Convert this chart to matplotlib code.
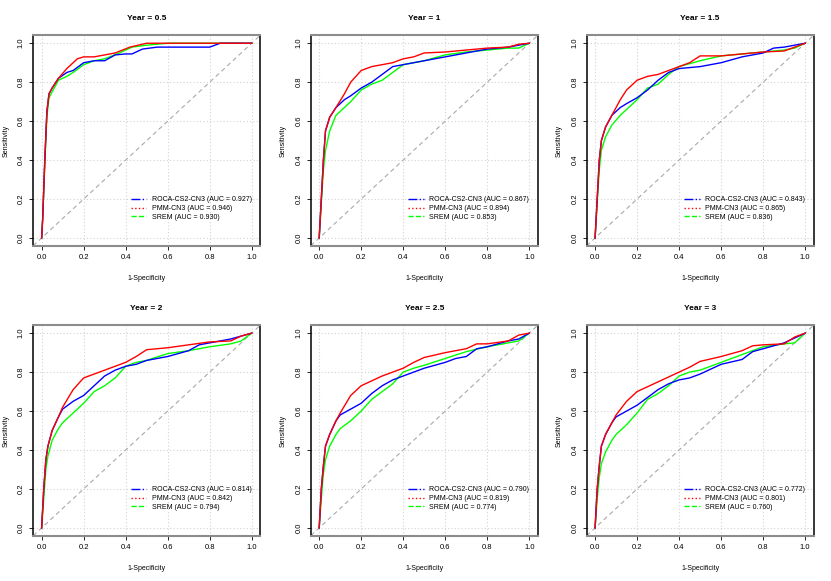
import matplotlib
matplotlib.use("Agg")
import matplotlib.pyplot as plt
from matplotlib.lines import Line2D

plt.rcParams['font.family'] = ['Liberation Sans', 'DejaVu Sans']

years = ["0.5", "1", "1.5", "2", "2.5", "3"]
auc_roca = [0.927, 0.867, 0.843, 0.814, 0.790, 0.772]
auc_pmm = [0.946, 0.894, 0.865, 0.842, 0.819, 0.801]
auc_srem = [0.930, 0.853, 0.836, 0.794, 0.774, 0.760]

# ROC curves: (1-specificity, sensitivity)
roca_x = [
    [0, 0.005, 0.015, 0.025, 0.035, 0.05, 0.08, 0.12, 0.15, 0.2, 0.25, 0.3, 0.35, 0.4, 0.43, 0.48, 0.55, 0.8, 0.85, 1.0],
    [0, 0.01, 0.02, 0.03, 0.05, 0.08, 0.12, 0.15, 0.2, 0.25, 0.3, 0.35, 0.4, 0.5, 0.6, 0.7, 0.8, 0.9, 1.0],
    [0, 0.01, 0.02, 0.03, 0.05, 0.08, 0.12, 0.15, 0.2, 0.25, 0.3, 0.35, 0.4, 0.5, 0.6, 0.7, 0.8, 0.85, 0.9, 1.0],
    [0, 0.01, 0.02, 0.03, 0.05, 0.08, 0.1, 0.15, 0.2, 0.25, 0.3, 0.35, 0.4, 0.45, 0.5, 0.6, 0.7, 0.75, 0.8, 0.9, 1.0],
    [0, 0.01, 0.02, 0.03, 0.05, 0.08, 0.1, 0.15, 0.2, 0.25, 0.3, 0.35, 0.4, 0.45, 0.5, 0.6, 0.65, 0.7, 0.75, 0.8, 0.9, 0.95, 1.0],
    [0, 0.01, 0.02, 0.03, 0.05, 0.08, 0.1, 0.15, 0.2, 0.25, 0.3, 0.35, 0.4, 0.45, 0.5, 0.6, 0.7, 0.75, 0.8, 0.9, 1.0],
]
roca_y = [
    [0, 0.1, 0.4, 0.65, 0.74, 0.77, 0.82, 0.85, 0.86, 0.9, 0.91, 0.91, 0.94, 0.945, 0.945, 0.97, 0.98, 0.98, 1.0, 1.0],
    [0, 0.2, 0.4, 0.55, 0.62, 0.67, 0.71, 0.73, 0.77, 0.8, 0.84, 0.88, 0.89, 0.91, 0.93, 0.95, 0.97, 0.98, 1.0],
    [0, 0.2, 0.4, 0.5, 0.57, 0.63, 0.67, 0.69, 0.72, 0.76, 0.81, 0.85, 0.87, 0.88, 0.9, 0.93, 0.95, 0.975, 0.98, 1.0],
    [0, 0.2, 0.35, 0.42, 0.5, 0.57, 0.61, 0.65, 0.68, 0.73, 0.78, 0.81, 0.83, 0.84, 0.86, 0.88, 0.91, 0.94, 0.95, 0.97, 1.0],
    [0, 0.2, 0.32, 0.42, 0.48, 0.55, 0.58, 0.61, 0.64, 0.69, 0.73, 0.76, 0.78, 0.8, 0.82, 0.85, 0.87, 0.88, 0.92, 0.93, 0.96, 0.97, 1.0],
    [0, 0.2, 0.32, 0.42, 0.48, 0.54, 0.57, 0.6, 0.63, 0.67, 0.71, 0.74, 0.76, 0.77, 0.79, 0.84, 0.865, 0.905, 0.92, 0.95, 1.0],
]

pmm_x = [
    [0, 0.005, 0.015, 0.025, 0.035, 0.05, 0.08, 0.12, 0.17, 0.2, 0.25, 0.3, 0.35, 0.42, 0.5, 1.0],
    [0, 0.01, 0.02, 0.03, 0.05, 0.08, 0.12, 0.15, 0.2, 0.25, 0.3, 0.35, 0.4, 0.45, 0.5, 0.6, 0.7, 0.8, 0.9, 0.95, 1.0],
    [0, 0.01, 0.02, 0.03, 0.05, 0.08, 0.12, 0.15, 0.2, 0.25, 0.3, 0.35, 0.4, 0.45, 0.5, 0.6, 0.7, 0.8, 0.9, 0.95, 1.0],
    [0, 0.01, 0.02, 0.03, 0.05, 0.08, 0.1, 0.15, 0.2, 0.25, 0.3, 0.35, 0.4, 0.45, 0.5, 0.6, 0.7, 0.8, 0.9, 0.95, 1.0],
    [0, 0.01, 0.02, 0.03, 0.05, 0.08, 0.1, 0.15, 0.2, 0.25, 0.3, 0.35, 0.4, 0.45, 0.5, 0.6, 0.7, 0.75, 0.8, 0.9, 0.95, 1.0],
    [0, 0.01, 0.02, 0.03, 0.05, 0.08, 0.1, 0.15, 0.2, 0.25, 0.3, 0.35, 0.4, 0.45, 0.5, 0.6, 0.7, 0.75, 0.8, 0.9, 0.95, 1.0],
]
pmm_y = [
    [0, 0.1, 0.4, 0.65, 0.74, 0.77, 0.82, 0.87, 0.92, 0.93, 0.93, 0.94, 0.95, 0.98, 1.0, 1.0],
    [0, 0.2, 0.4, 0.55, 0.62, 0.67, 0.74, 0.8, 0.86, 0.88, 0.89, 0.9, 0.92, 0.93, 0.95, 0.955, 0.965, 0.975, 0.98, 0.995, 1.0],
    [0, 0.2, 0.4, 0.5, 0.57, 0.63, 0.71, 0.76, 0.81, 0.83, 0.84, 0.86, 0.88, 0.9, 0.935, 0.935, 0.945, 0.955, 0.96, 0.98, 1.0],
    [0, 0.2, 0.35, 0.42, 0.5, 0.57, 0.62, 0.71, 0.77, 0.79, 0.81, 0.83, 0.85, 0.88, 0.915, 0.925, 0.94, 0.955, 0.96, 0.985, 1.0],
    [0, 0.2, 0.32, 0.42, 0.48, 0.55, 0.59, 0.68, 0.73, 0.755, 0.78, 0.8, 0.82, 0.85, 0.875, 0.9, 0.92, 0.945, 0.945, 0.96, 0.99, 1.0],
    [0, 0.2, 0.32, 0.42, 0.48, 0.54, 0.58, 0.65, 0.7, 0.725, 0.75, 0.775, 0.8, 0.825, 0.855, 0.88, 0.91, 0.935, 0.94, 0.945, 0.98, 1.0],
]

srem_x = [
    [0, 0.005, 0.015, 0.025, 0.035, 0.05, 0.08, 0.12, 0.15, 0.2, 0.25, 0.3, 0.37, 0.43, 0.5, 0.6, 1.0],
    [0, 0.01, 0.02, 0.03, 0.05, 0.08, 0.12, 0.15, 0.2, 0.25, 0.3, 0.35, 0.4, 0.5, 0.6, 0.7, 0.8, 0.9, 0.95, 1.0],
    [0, 0.01, 0.02, 0.03, 0.05, 0.08, 0.12, 0.15, 0.2, 0.25, 0.3, 0.35, 0.4, 0.5, 0.6, 0.7, 0.8, 0.9, 0.95, 1.0],
    [0, 0.01, 0.02, 0.03, 0.05, 0.08, 0.1, 0.15, 0.2, 0.25, 0.3, 0.35, 0.4, 0.45, 0.5, 0.6, 0.7, 0.8, 0.9, 0.95, 1.0],
    [0, 0.01, 0.02, 0.03, 0.05, 0.08, 0.1, 0.15, 0.2, 0.25, 0.3, 0.35, 0.4, 0.45, 0.5, 0.6, 0.7, 0.8, 0.9, 0.95, 1.0],
    [0, 0.01, 0.02, 0.03, 0.05, 0.08, 0.1, 0.15, 0.2, 0.25, 0.3, 0.35, 0.4, 0.45, 0.5, 0.6, 0.7, 0.8, 0.9, 0.95, 1.0],
]
srem_y = [
    [0, 0.1, 0.38, 0.62, 0.72, 0.75, 0.81, 0.83, 0.85, 0.89, 0.91, 0.92, 0.95, 0.98, 0.99, 1.0, 1.0],
    [0, 0.18, 0.35, 0.45, 0.55, 0.63, 0.67, 0.7, 0.76, 0.79, 0.81, 0.85, 0.89, 0.91, 0.94, 0.955, 0.965, 0.975, 0.975, 1.0],
    [0, 0.18, 0.35, 0.45, 0.52, 0.58, 0.63, 0.66, 0.71, 0.77, 0.79, 0.84, 0.88, 0.91, 0.935, 0.945, 0.955, 0.965, 0.975, 1.0],
    [0, 0.15, 0.3, 0.37, 0.45, 0.51, 0.54, 0.59, 0.64, 0.7, 0.73, 0.77, 0.83, 0.85, 0.86, 0.895, 0.91, 0.93, 0.945, 0.96, 1.0],
    [0, 0.15, 0.28, 0.35, 0.42, 0.48, 0.51, 0.55, 0.6, 0.66, 0.7, 0.74, 0.8, 0.82, 0.835, 0.87, 0.905, 0.93, 0.95, 0.96, 1.0],
    [0, 0.15, 0.26, 0.33, 0.39, 0.45, 0.48, 0.53, 0.59, 0.66, 0.69, 0.73, 0.78, 0.8, 0.81, 0.85, 0.89, 0.93, 0.945, 0.95, 1.0],
]

ticks = [0.0, 0.2, 0.4, 0.6, 0.8, 1.0]
tick_labels = ["0.0", "0.2", "0.4", "0.6", "0.8", "1.0"]

fig = plt.figure(figsize=(8.31, 5.81), dpi=100)
lefts = [0.040, 0.374, 0.706]
bottoms = [0.577, 0.078]
w, h = 0.273, 0.362

for i in range(6):
    ax = fig.add_axes([lefts[i % 3], bottoms[i // 3], w, h])
    ax.set_xlim(-0.04, 1.04)
    ax.set_ylim(-0.04, 1.04)
    for t in ticks:
        ax.axvline(t, color='#d3d3d3', lw=0.8, ls=(0, (1, 2)), zorder=0)
        ax.axhline(t, color='#d3d3d3', lw=0.8, ls=(0, (1, 2)), zorder=0)
    ax.axline((0, 0), (1, 1), color='#a9a9a9', lw=0.8, ls=(0, (4, 3)), zorder=1)

    ax.plot(srem_x[i], srem_y[i], color='#00ff00', lw=1.0, zorder=2)
    ax.plot(roca_x[i], roca_y[i], color='#0000ff', lw=1.0, zorder=3)
    ax.plot(pmm_x[i], pmm_y[i], color='#ff0000', lw=1.0, zorder=4)

    handles = [
        Line2D([], [], color='#0000ff', lw=1.0, ls='-.'),
        Line2D([], [], color='#ff0000', lw=1.0, ls=':'),
        Line2D([], [], color='#00ff00', lw=1.0, ls='--'),
    ]
    labels = [
        "ROCA-CS2-CN3 (AUC = %.3f)" % auc_roca[i],
        "PMM-CN3 (AUC = %.3f)" % auc_pmm[i],
        "SREM (AUC = %.3f)" % auc_srem[i],
    ]
    ax.legend(handles, labels, loc='upper left', bbox_to_anchor=(0.43, 0.235),
              frameon=False, fontsize=5, handlelength=2.2, handletextpad=0.8,
              labelspacing=0.25, borderpad=0, borderaxespad=0)

    ax.set_xticks(ticks)
    ax.set_xticklabels(tick_labels)
    ax.set_yticks(ticks)
    ax.set_yticklabels(tick_labels, rotation=90, va='center')
    ax.tick_params(labelsize=5.5, length=3, width=0.6, pad=3)
    ax.set_title("Year = " + years[i], fontsize=6, fontweight='bold', pad=11)
    ax.set_xlabel("1-Specificity", fontsize=5, labelpad=10)
    ax.set_ylabel("Sensitivity", fontsize=5, labelpad=6)
    for s in ['left', 'right']:
        ax.spines[s].set_color('#000000')
        ax.spines[s].set_linewidth(1.1)
    for s in ['top', 'bottom']:
        ax.spines[s].set_color('#8c8c8c')
        ax.spines[s].set_linewidth(1.5)

fig.savefig('out.png', dpi=100)
